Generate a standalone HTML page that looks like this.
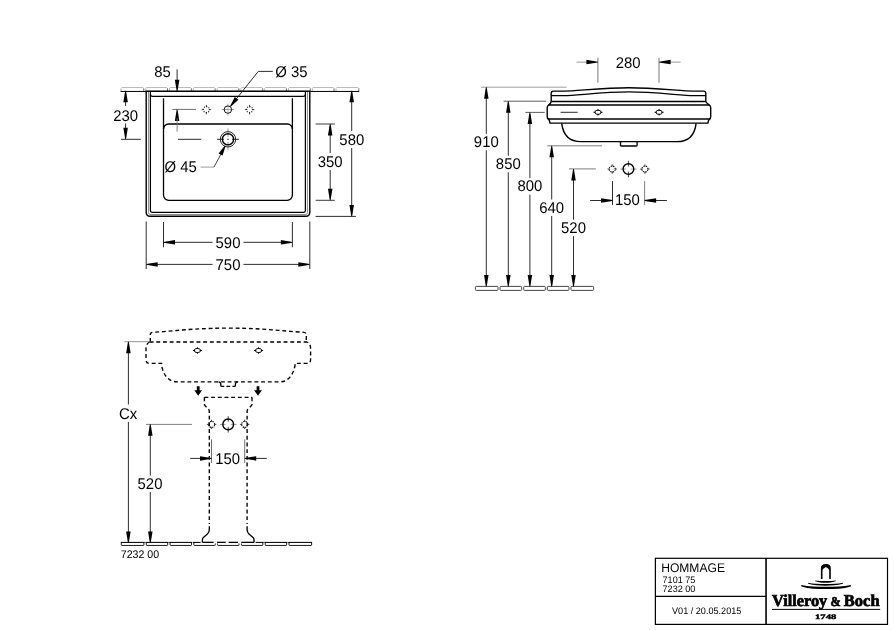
<!DOCTYPE html>
<html lang="de">
<head>
<meta charset="utf-8">
<title>HOMMAGE 7101 75 / 7232 00 – Villeroy &amp; Boch</title>
<style>
html,body{margin:0;padding:0;background:#fff;}
body{width:894px;height:630px;overflow:hidden;}
svg{display:block;will-change:transform;}
svg text{font-family:"Liberation Sans",Arial,sans-serif;fill:#000;text-rendering:geometricPrecision;}
svg text.logo{font-family:"Liberation Serif","Times New Roman",serif;font-weight:bold;}
</style>
</head>
<body>
<svg width="894" height="630" viewBox="0 0 894 630">
<rect x="0" y="0" width="894" height="630" fill="#ffffff"/>
<g id="plan">
<path d="M121.50 87.5 H143.28" fill="none" stroke="#b4b4b4" stroke-width="0.9"/>
<path d="M121.00 91.45 V88.3" fill="none" stroke="#999" stroke-width="0.8"/>
<path d="M143.78 91.45 V88.3" fill="none" stroke="#444" stroke-width="0.8"/>
<path d="M146.28 87.5 H167.06" fill="none" stroke="#b4b4b4" stroke-width="0.9"/>
<path d="M145.78 91.45 V88.3" fill="none" stroke="#999" stroke-width="0.8"/>
<path d="M167.56 91.45 V88.3" fill="none" stroke="#444" stroke-width="0.8"/>
<path d="M170.06 87.5 H190.84" fill="none" stroke="#b4b4b4" stroke-width="0.9"/>
<path d="M169.56 91.45 V88.3" fill="none" stroke="#999" stroke-width="0.8"/>
<path d="M191.34 91.45 V88.3" fill="none" stroke="#444" stroke-width="0.8"/>
<path d="M193.84 87.5 H214.62" fill="none" stroke="#b4b4b4" stroke-width="0.9"/>
<path d="M193.34 91.45 V88.3" fill="none" stroke="#999" stroke-width="0.8"/>
<path d="M215.12 91.45 V88.3" fill="none" stroke="#444" stroke-width="0.8"/>
<path d="M217.62 87.5 H238.40" fill="none" stroke="#b4b4b4" stroke-width="0.9"/>
<path d="M217.12 91.45 V88.3" fill="none" stroke="#999" stroke-width="0.8"/>
<path d="M238.90 91.45 V88.3" fill="none" stroke="#444" stroke-width="0.8"/>
<path d="M241.40 87.5 H262.18" fill="none" stroke="#b4b4b4" stroke-width="0.9"/>
<path d="M240.90 91.45 V88.3" fill="none" stroke="#999" stroke-width="0.8"/>
<path d="M262.68 91.45 V88.3" fill="none" stroke="#444" stroke-width="0.8"/>
<path d="M265.18 87.5 H285.96" fill="none" stroke="#b4b4b4" stroke-width="0.9"/>
<path d="M264.68 91.45 V88.3" fill="none" stroke="#999" stroke-width="0.8"/>
<path d="M286.46 91.45 V88.3" fill="none" stroke="#444" stroke-width="0.8"/>
<path d="M288.96 87.5 H309.74" fill="none" stroke="#b4b4b4" stroke-width="0.9"/>
<path d="M288.46 91.45 V88.3" fill="none" stroke="#999" stroke-width="0.8"/>
<path d="M310.24 91.45 V88.3" fill="none" stroke="#444" stroke-width="0.8"/>
<path d="M312.74 87.5 H333.52" fill="none" stroke="#b4b4b4" stroke-width="0.9"/>
<path d="M312.24 91.45 V88.3" fill="none" stroke="#999" stroke-width="0.8"/>
<path d="M334.02 91.45 V88.3" fill="none" stroke="#444" stroke-width="0.8"/>
<path d="M336.52 87.5 H358.30" fill="none" stroke="#b4b4b4" stroke-width="0.9"/>
<path d="M336.02 91.45 V88.3" fill="none" stroke="#999" stroke-width="0.8"/>
<path d="M358.80 91.45 V88.3" fill="none" stroke="#444" stroke-width="0.8"/>
<path d="M120.60 91.45 H359.20" fill="none" stroke="#000" stroke-width="1"/>
<path d="M146.2 91.3 H309.8 V212.2 Q309.8 216.3 305.7 216.3 H150.3 Q146.2 216.3 146.2 212.2 Z" fill="none" stroke="#000" stroke-width="1.4"/>
<path d="M148.5 92 V212.6 Q148.5 214.5 150.4 214.5 H305.6 Q307.5 214.5 307.5 212.6 V92" fill="none" stroke="#333" stroke-width="0.55"/>
<path d="M150.4 91.3 V210.6 Q150.4 212.3 152.1 212.3 H303.7 Q305.4 212.3 305.4 210.6 V91.3" fill="none" stroke="#000" stroke-width="1.25"/>
<path d="M150.4 94.6 Q150.8 96.4 152.6 96.4 H303.2 Q305 96.4 305.4 94.6" fill="none" stroke="#000" stroke-width="1.3"/>
<path d="M163.5 98.2 V195.1 A5.2 5.2 0 0 0 168.7 200.3 H287.2 A5.2 5.2 0 0 0 292.4 195.1 V98.2" fill="none" stroke="#000" stroke-width="1.3"/>
<path d="M163.5 129 A5 5 0 0 1 168.5 124 H287.4 A5 5 0 0 1 292.4 129" fill="none" stroke="#000" stroke-width="1.4"/>
<line x1="208.70000000000002" y1="109.6" x2="211.1" y2="109.6" stroke="#222" stroke-width="0.85" />
<line x1="204.1" y1="109.6" x2="201.70000000000002" y2="109.6" stroke="#222" stroke-width="0.85" />
<line x1="206.4" y1="111.89999999999999" x2="206.4" y2="114.3" stroke="#222" stroke-width="0.85" />
<line x1="206.4" y1="107.3" x2="206.4" y2="104.89999999999999" stroke="#222" stroke-width="0.85" />
<circle cx="206.4" cy="109.6" r="3.1" fill="none" stroke="#111" stroke-width="1.1" stroke-dasharray="0.974 1.461" stroke-dashoffset="0.487"/>
<line x1="251.9" y1="109.6" x2="254.29999999999998" y2="109.6" stroke="#222" stroke-width="0.85" />
<line x1="247.29999999999998" y1="109.6" x2="244.9" y2="109.6" stroke="#222" stroke-width="0.85" />
<line x1="249.6" y1="111.89999999999999" x2="249.6" y2="114.3" stroke="#222" stroke-width="0.85" />
<line x1="249.6" y1="107.3" x2="249.6" y2="104.89999999999999" stroke="#222" stroke-width="0.85" />
<circle cx="249.6" cy="109.6" r="3.1" fill="none" stroke="#111" stroke-width="1.1" stroke-dasharray="0.974 1.461" stroke-dashoffset="0.487"/>
<line x1="221.8" y1="109.6" x2="234" y2="109.6" stroke="#777" stroke-width="0.8" />
<line x1="227.9" y1="103.6" x2="227.9" y2="115.6" stroke="#aaa" stroke-width="0.8" />
<circle cx="227.9" cy="109.6" r="3.7" fill="none" stroke="#111" stroke-width="1"/>
<line x1="217" y1="139.3" x2="224" y2="139.3" stroke="#111" stroke-width="0.9" />
<line x1="232" y1="139.3" x2="239" y2="139.3" stroke="#111" stroke-width="0.9" />
<line x1="227" y1="139.3" x2="229" y2="139.3" stroke="#444" stroke-width="0.9" />
<line x1="228" y1="128.4" x2="228" y2="137" stroke="#888" stroke-width="0.8" />
<line x1="228" y1="141.6" x2="228" y2="150.2" stroke="#888" stroke-width="0.8" />
<circle cx="228" cy="139.3" r="7.7" fill="none" stroke="#111" stroke-width="0.9"/>
<circle cx="228" cy="139.3" r="5.6" fill="none" stroke="#000" stroke-width="1.4"/>
<text x="162.5" y="76.70" font-size="15.50" text-anchor="middle" textLength="16.57" lengthAdjust="spacingAndGlyphs" >85</text>
<line x1="177.1" y1="69.3" x2="177.1" y2="85" stroke="#222" stroke-width="0.95" />
<polygon points="176.70,91.20 174.85,79.70 179.35,79.70 177.50,91.20" fill="#000"/>
<line x1="172.3" y1="109.4" x2="196" y2="109.4" stroke="#555" stroke-width="0.85" />
<polygon points="177.50,109.40 179.35,120.90 174.85,120.90 176.70,109.40" fill="#000"/>
<line x1="177.1" y1="118" x2="177.1" y2="131.6" stroke="#777" stroke-width="0.9" />
<line x1="178" y1="139.3" x2="201.2" y2="139.3" stroke="#222" stroke-width="0.95" />
<text x="125.6" y="120.80" font-size="15.50" text-anchor="middle" textLength="24.86" lengthAdjust="spacingAndGlyphs" >230</text>
<line x1="125.6" y1="98" x2="125.6" y2="106" stroke="#222" stroke-width="0.95" />
<line x1="125.6" y1="123.5" x2="125.6" y2="132" stroke="#222" stroke-width="0.95" />
<polygon points="126.00,90.80 127.85,102.30 123.35,102.30 125.20,90.80" fill="#000"/>
<polygon points="125.20,139.30 123.35,127.80 127.85,127.80 126.00,139.30" fill="#000"/>
<line x1="121" y1="139.3" x2="140.8" y2="139.3" stroke="#222" stroke-width="0.95" />
<text x="275.3" y="76.70" font-size="15.50" text-anchor="start" textLength="32.30" lengthAdjust="spacingAndGlyphs" >Ø 35</text>
<path d="M272.8 71.4 H258.3 L234 101.8" fill="none" stroke="#222" stroke-width="0.95"/>
<polygon points="229.98,106.25 234.76,97.04 238.39,99.87 230.62,106.75" fill="#000"/>
<text x="164.5" y="172.00" font-size="15.50" text-anchor="start" textLength="32.30" lengthAdjust="spacingAndGlyphs" >Ø 45</text>
<line x1="200.6" y1="167.1" x2="213.9" y2="167.1" stroke="#888" stroke-width="0.8" />
<line x1="213.9" y1="167.1" x2="222.3" y2="151.8" stroke="#222" stroke-width="0.85" />
<polygon points="225.55,145.99 222.59,155.51 218.62,153.40 224.85,145.61" fill="#000"/>
<text x="330.2" y="166.70" font-size="15.50" text-anchor="middle" textLength="24.86" lengthAdjust="spacingAndGlyphs" >350</text>
<line x1="315.6" y1="124" x2="334.9" y2="124" stroke="#333" stroke-width="0.95" />
<line x1="315.6" y1="200.3" x2="334.9" y2="200.3" stroke="#333" stroke-width="0.95" />
<line x1="330.2" y1="126" x2="330.2" y2="153" stroke="#222" stroke-width="0.95" />
<line x1="330.2" y1="170" x2="330.2" y2="198.3" stroke="#222" stroke-width="0.95" />
<polygon points="330.60,124.00 332.45,135.50 327.95,135.50 329.80,124.00" fill="#000"/>
<polygon points="329.80,200.30 327.95,188.80 332.45,188.80 330.60,200.30" fill="#000"/>
<text x="351.8" y="144.50" font-size="15.50" text-anchor="middle" textLength="24.86" lengthAdjust="spacingAndGlyphs" >580</text>
<line x1="351.7" y1="92.8" x2="351.7" y2="131" stroke="#222" stroke-width="0.95" />
<line x1="351.7" y1="148" x2="351.7" y2="214.4" stroke="#222" stroke-width="0.95" />
<polygon points="352.10,90.80 353.95,102.30 349.45,102.30 351.30,90.80" fill="#000"/>
<polygon points="351.30,216.40 349.45,204.90 353.95,204.90 352.10,216.40" fill="#000"/>
<line x1="315.6" y1="216.4" x2="355.9" y2="216.4" stroke="#222" stroke-width="0.95" />
<text x="228" y="247.90" font-size="15.50" text-anchor="middle" textLength="24.86" lengthAdjust="spacingAndGlyphs" >590</text>
<line x1="163.5" y1="222" x2="163.5" y2="247.3" stroke="#222" stroke-width="0.95" />
<line x1="292.4" y1="222" x2="292.4" y2="247.3" stroke="#222" stroke-width="0.95" />
<line x1="165.5" y1="242.3" x2="212.5" y2="242.3" stroke="#222" stroke-width="0.95" />
<line x1="243.5" y1="242.3" x2="290.4" y2="242.3" stroke="#222" stroke-width="0.95" />
<polygon points="163.50,241.90 175.00,240.05 175.00,244.55 163.50,242.70" fill="#000"/>
<polygon points="292.40,242.70 280.90,244.55 280.90,240.05 292.40,241.90" fill="#000"/>
<text x="228" y="269.90" font-size="15.50" text-anchor="middle" textLength="24.86" lengthAdjust="spacingAndGlyphs" >750</text>
<line x1="146.2" y1="221.5" x2="146.2" y2="269" stroke="#222" stroke-width="0.95" />
<line x1="309.8" y1="221.5" x2="309.8" y2="269" stroke="#222" stroke-width="0.95" />
<line x1="148.2" y1="264.4" x2="212.5" y2="264.4" stroke="#222" stroke-width="0.95" />
<line x1="243.5" y1="264.4" x2="307.8" y2="264.4" stroke="#222" stroke-width="0.95" />
<polygon points="146.20,264.00 157.70,262.15 157.70,266.65 146.20,264.80" fill="#000"/>
<polygon points="309.80,264.80 298.30,266.65 298.30,262.15 309.80,264.00" fill="#000"/>
</g>
<g id="side">
<rect x="475.40" y="286.4" width="22.64" height="4.00" rx="0.9" ry="0.9" fill="none" stroke="#444" stroke-width="1"/>
<rect x="500.04" y="286.4" width="21.64" height="4.00" rx="0.9" ry="0.9" fill="none" stroke="#444" stroke-width="1"/>
<rect x="523.68" y="286.4" width="21.64" height="4.00" rx="0.9" ry="0.9" fill="none" stroke="#444" stroke-width="1"/>
<rect x="547.32" y="286.4" width="21.64" height="4.00" rx="0.9" ry="0.9" fill="none" stroke="#444" stroke-width="1"/>
<rect x="570.96" y="286.4" width="22.64" height="4.00" rx="0.9" ry="0.9" fill="none" stroke="#444" stroke-width="1"/>
<line x1="481" y1="87.2" x2="566.5" y2="87.2" stroke="#999" stroke-width="0.95" />
<line x1="486.3" y1="89.2" x2="486.3" y2="133.8" stroke="#222" stroke-width="0.95" />
<line x1="486.3" y1="150.3" x2="486.3" y2="284.4" stroke="#222" stroke-width="0.95" />
<polygon points="486.70,87.20 488.55,98.70 484.05,98.70 485.90,87.20" fill="#000"/>
<polygon points="485.90,286.40 484.05,274.90 488.55,274.90 486.70,286.40" fill="#000"/>
<text x="486.3" y="147.00" font-size="15.50" text-anchor="middle" textLength="24.86" lengthAdjust="spacingAndGlyphs" >910</text>
<line x1="503.6" y1="101.2" x2="546.3" y2="101.2" stroke="#555" stroke-width="0.95" />
<line x1="508.3" y1="103.2" x2="508.3" y2="155.8" stroke="#222" stroke-width="0.95" />
<line x1="508.3" y1="172.3" x2="508.3" y2="284.4" stroke="#222" stroke-width="0.95" />
<polygon points="508.70,101.20 510.55,112.70 506.05,112.70 507.90,101.20" fill="#000"/>
<polygon points="507.90,286.40 506.05,274.90 510.55,274.90 508.70,286.40" fill="#000"/>
<text x="508.3" y="169.00" font-size="15.50" text-anchor="middle" textLength="24.86" lengthAdjust="spacingAndGlyphs" >850</text>
<line x1="525.4" y1="112.4" x2="544.7" y2="112.4" stroke="#555" stroke-width="0.95" />
<line x1="529.9" y1="114.4" x2="529.9" y2="178.1" stroke="#222" stroke-width="0.95" />
<line x1="529.9" y1="194.6" x2="529.9" y2="284.4" stroke="#222" stroke-width="0.95" />
<polygon points="530.30,112.40 532.15,123.90 527.65,123.90 529.50,112.40" fill="#000"/>
<polygon points="529.50,286.40 527.65,274.90 532.15,274.90 530.30,286.40" fill="#000"/>
<text x="529.9" y="191.30" font-size="15.50" text-anchor="middle" textLength="24.86" lengthAdjust="spacingAndGlyphs" >800</text>
<line x1="547.2" y1="145.8" x2="602" y2="145.8" stroke="#777" stroke-width="0.95" />
<line x1="551.7" y1="147.8" x2="551.7" y2="199.5" stroke="#222" stroke-width="0.95" />
<line x1="551.7" y1="216" x2="551.7" y2="284.4" stroke="#222" stroke-width="0.95" />
<polygon points="552.10,145.80 553.95,157.30 549.45,157.30 551.30,145.80" fill="#000"/>
<polygon points="551.30,286.40 549.45,274.90 553.95,274.90 552.10,286.40" fill="#000"/>
<text x="551.7" y="212.70" font-size="15.50" text-anchor="middle" textLength="24.86" lengthAdjust="spacingAndGlyphs" >640</text>
<line x1="569" y1="168.9" x2="595.8" y2="168.9" stroke="#777" stroke-width="0.95" />
<line x1="573.5" y1="170.9" x2="573.5" y2="219.6" stroke="#222" stroke-width="0.95" />
<line x1="573.5" y1="236.1" x2="573.5" y2="284.4" stroke="#222" stroke-width="0.95" />
<polygon points="573.90,168.90 575.75,180.40 571.25,180.40 573.10,168.90" fill="#000"/>
<polygon points="573.10,286.40 571.25,274.90 575.75,274.90 573.90,286.40" fill="#000"/>
<text x="573.5" y="232.80" font-size="15.50" text-anchor="middle" textLength="24.86" lengthAdjust="spacingAndGlyphs" >520</text>
<path d="M551.2 101.5 V93.3 Q551.2 91.1 553.4 91.1 H564 C575 91.2 603 87.7 628.9 87.7 C654.8 87.7 682.8 91.2 693.8 91.1 H703.6 Q705.8 91.1 705.8 93.3 V101.5" fill="none" stroke="#000" stroke-width="1.4"/>
<path d="M551.2 95.6 H564 C575 95.7 603 91.9 628.9 91.9 C654.8 91.9 682.8 95.7 693.8 95.6 H705.8" fill="none" stroke="#000" stroke-width="1.3"/>
<path d="M551.2 101.5 H705.8" fill="none" stroke="#000" stroke-width="1.4"/>
<path d="M551.2 101.5 Q550.8 103.6 548.6 105 Q547.2 106 547.2 108 V116.4 Q547.2 118.4 548.4 119.2 Q549.8 120.4 550 123.1 H707.9 Q708.1 120.4 709.5 119.2 Q710.7 118.4 710.7 116.4 V108 Q710.7 106 709.3 105 Q707.1 103.6 705.8 101.5" fill="none" stroke="#000" stroke-width="1.4"/>
<path d="M548.4 105.1 H709.5" fill="none" stroke="#000" stroke-width="1.5"/>
<path d="M548 119 H709.9" fill="none" stroke="#000" stroke-width="1.3"/>
<path d="M561.7 123.3 C562.9 133 568 141.6 581 141.6 H676.9 C689.9 141.6 695 133 696.1 123.3" fill="none" stroke="#000" stroke-width="1.4"/>
<path d="M620.5 141.6 V145.2 Q620.5 146 621.3 146 H636.3 Q637.1 146 637.1 145.2 V141.6" fill="none" stroke="#000" stroke-width="1.3"/>
<ellipse cx="598" cy="112.3" rx="3.2" ry="2.1" fill="none" stroke="#111" stroke-width="1"/>
<line x1="593.5" y1="112.3" x2="595.6999999999999" y2="112.3" stroke="#000" stroke-width="1" />
<line x1="600.3000000000001" y1="112.3" x2="602.5" y2="112.3" stroke="#000" stroke-width="1" />
<line x1="598" y1="109.10000000000001" x2="598" y2="110.8" stroke="#000" stroke-width="1" />
<line x1="598" y1="113.8" x2="598" y2="115.49999999999999" stroke="#000" stroke-width="1" />
<ellipse cx="659.1" cy="112.3" rx="3.2" ry="2.1" fill="none" stroke="#111" stroke-width="1"/>
<line x1="654.6" y1="112.3" x2="656.8" y2="112.3" stroke="#000" stroke-width="1" />
<line x1="661.4000000000001" y1="112.3" x2="663.6" y2="112.3" stroke="#000" stroke-width="1" />
<line x1="659.1" y1="109.10000000000001" x2="659.1" y2="110.8" stroke="#000" stroke-width="1" />
<line x1="659.1" y1="113.8" x2="659.1" y2="115.49999999999999" stroke="#000" stroke-width="1" />
<line x1="560.6" y1="112.3" x2="577.7" y2="112.3" stroke="#222" stroke-width="0.95" />
<text x="628.2" y="67.90" font-size="15.50" text-anchor="middle" textLength="24.86" lengthAdjust="spacingAndGlyphs" >280</text>
<line x1="597.9" y1="57.8" x2="597.9" y2="82.7" stroke="#666" stroke-width="0.9" />
<line x1="659" y1="57.8" x2="659" y2="82.7" stroke="#666" stroke-width="0.9" />
<line x1="576.5" y1="62.1" x2="588" y2="62.1" stroke="#888" stroke-width="0.85" />
<polygon points="597.90,62.50 586.40,64.35 586.40,59.85 597.90,61.70" fill="#000"/>
<line x1="670" y1="62.1" x2="680.6" y2="62.1" stroke="#888" stroke-width="0.85" />
<polygon points="659.10,61.70 670.60,59.85 670.60,64.35 659.10,62.50" fill="#000"/>
<line x1="614.75" y1="169.05" x2="616.9000000000001" y2="169.05" stroke="#222" stroke-width="0.85" />
<line x1="609.6500000000001" y1="169.05" x2="607.5" y2="169.05" stroke="#222" stroke-width="0.85" />
<line x1="612.2" y1="171.60000000000002" x2="612.2" y2="173.75" stroke="#222" stroke-width="0.85" />
<line x1="612.2" y1="166.5" x2="612.2" y2="164.35000000000002" stroke="#222" stroke-width="0.85" />
<circle cx="612.2" cy="169.05" r="3.05" fill="none" stroke="#111" stroke-width="1.1" stroke-dasharray="1.485 0.910" stroke-dashoffset="-0.455"/>
<line x1="647.4499999999999" y1="169.05" x2="649.6" y2="169.05" stroke="#222" stroke-width="0.85" />
<line x1="642.35" y1="169.05" x2="640.1999999999999" y2="169.05" stroke="#222" stroke-width="0.85" />
<line x1="644.9" y1="171.60000000000002" x2="644.9" y2="173.75" stroke="#222" stroke-width="0.85" />
<line x1="644.9" y1="166.5" x2="644.9" y2="164.35000000000002" stroke="#222" stroke-width="0.85" />
<circle cx="644.9" cy="169.05" r="3.05" fill="none" stroke="#111" stroke-width="1.1" stroke-dasharray="1.485 0.910" stroke-dashoffset="-0.455"/>
<line x1="631.0500000000001" y1="169.05" x2="636.6500000000001" y2="169.05" stroke="#888" stroke-width="0.85" />
<line x1="625.85" y1="169.05" x2="620.25" y2="169.05" stroke="#888" stroke-width="0.85" />
<line x1="628.45" y1="171.65" x2="628.45" y2="177.25" stroke="#222" stroke-width="0.85" />
<line x1="628.45" y1="166.45000000000002" x2="628.45" y2="160.85000000000002" stroke="#222" stroke-width="0.85" />
<circle cx="628.45" cy="169.05" r="5.35" fill="none" stroke="#000" stroke-width="1.4"/>
<text x="627.4" y="205.30" font-size="15.50" text-anchor="middle" textLength="24.86" lengthAdjust="spacingAndGlyphs" >150</text>
<line x1="612.5" y1="181.1" x2="612.5" y2="204.9" stroke="#222" stroke-width="0.95" />
<line x1="644.6" y1="181.1" x2="644.6" y2="204.9" stroke="#777" stroke-width="0.95" />
<line x1="590.1" y1="200.5" x2="603" y2="200.5" stroke="#222" stroke-width="0.95" />
<polygon points="612.50,200.90 601.00,202.75 601.00,198.25 612.50,200.10" fill="#000"/>
<line x1="654" y1="200.5" x2="666.9" y2="200.5" stroke="#222" stroke-width="0.95" />
<polygon points="644.60,200.10 656.10,198.25 656.10,202.75 644.60,200.90" fill="#000"/>
</g>
<g id="front">
<path d="M121.30 542.4 V544.85 Q121.30 545.45 121.90 545.45 H143.29 Q143.89 545.45 143.89 544.85 V542.4" fill="none" stroke="#111" stroke-width="0.95"/>
<path d="M120.85 542.4 H144.74" fill="none" stroke="#000" stroke-width="1.05"/>
<path d="M146.29 542.4 V544.85 Q146.29 545.45 146.89 545.45 H167.08 Q167.68 545.45 167.68 544.85 V542.4" fill="none" stroke="#111" stroke-width="0.95"/>
<path d="M145.44 542.4 H168.53" fill="none" stroke="#000" stroke-width="1.05"/>
<path d="M170.07 542.4 V544.85 Q170.07 545.45 170.67 545.45 H190.86 Q191.46 545.45 191.46 544.85 V542.4" fill="none" stroke="#111" stroke-width="0.95"/>
<path d="M169.22 542.4 H192.31" fill="none" stroke="#000" stroke-width="1.05"/>
<path d="M193.86 542.4 V544.85 Q193.86 545.45 194.46 545.45 H214.65 Q215.25 545.45 215.25 544.85 V542.4" fill="none" stroke="#111" stroke-width="0.95"/>
<path d="M193.01 542.4 H216.10" fill="none" stroke="#000" stroke-width="1.05"/>
<path d="M217.65 542.4 V544.85 Q217.65 545.45 218.25 545.45 H238.44 Q239.04 545.45 239.04 544.85 V542.4" fill="none" stroke="#111" stroke-width="0.95"/>
<path d="M216.80 542.4 H239.89" fill="none" stroke="#000" stroke-width="1.05"/>
<path d="M241.44 542.4 V544.85 Q241.44 545.45 242.04 545.45 H262.23 Q262.83 545.45 262.83 544.85 V542.4" fill="none" stroke="#111" stroke-width="0.95"/>
<path d="M240.59 542.4 H263.68" fill="none" stroke="#000" stroke-width="1.05"/>
<path d="M265.23 542.4 V544.85 Q265.23 545.45 265.83 545.45 H286.01 Q286.61 545.45 286.61 544.85 V542.4" fill="none" stroke="#111" stroke-width="0.95"/>
<path d="M264.38 542.4 H287.46" fill="none" stroke="#000" stroke-width="1.05"/>
<path d="M289.01 542.4 V544.85 Q289.01 545.45 289.61 545.45 H311.00 Q311.60 545.45 311.60 544.85 V542.4" fill="none" stroke="#111" stroke-width="0.95"/>
<path d="M288.16 542.4 H312.05" fill="none" stroke="#000" stroke-width="1.05"/>
<line x1="200.6" y1="542.4" x2="255.6" y2="542.4" stroke="#fff" stroke-width="2" />
<path d="M150.3 341.8 V334.6 Q150.3 332.5 152.6 332.3 L164 331.6 C185 329.6 205 328.1 228.3 328.1 C252 328.1 272 329.6 293 331.6 L304 332.3 Q306.3 332.5 306.3 334.6 V341.8" stroke="#000" stroke-width="1.35" fill="none" stroke-dasharray="3.9 2.8"/>
<path d="M149.6 342 H307" stroke="#000" stroke-width="1.5" fill="none" stroke-dasharray="3.9 2.8"/>
<path d="M149.6 342 Q146 343.8 146 348.4 V359.6 Q146 363.4 149.6 363.4 H161.6 V365.5 C163.5 375 168.2 381.8 177 381.8 H279.6 C288.4 381.8 293.1 375 295 365.5 V363.4 H307 Q310.6 363.4 310.6 359.6 V348.4 Q310.6 343.8 307 342" stroke="#000" stroke-width="1.35" fill="none" stroke-dasharray="3.9 2.8"/>
<path d="M218.6 381.9 Q220.8 382.2 220.8 384.6 V385.2 Q220.8 386.4 222 386.4 H224.2 M226.4 386.4 H230.2 M232.4 386.4 H234.2 Q235.4 386.4 235.4 385.2 V384.6 Q235.4 382.2 237.6 381.9" fill="none" stroke="#000" stroke-width="1.35"/>
<ellipse cx="197.4" cy="350.5" rx="3.2" ry="2.1" fill="none" stroke="#111" stroke-width="1"/>
<line x1="192.9" y1="350.5" x2="195.10000000000002" y2="350.5" stroke="#000" stroke-width="1" />
<line x1="199.7" y1="350.5" x2="201.9" y2="350.5" stroke="#000" stroke-width="1" />
<line x1="197.4" y1="347.29999999999995" x2="197.4" y2="349.0" stroke="#000" stroke-width="1" />
<line x1="197.4" y1="352.0" x2="197.4" y2="353.70000000000005" stroke="#000" stroke-width="1" />
<ellipse cx="258.6" cy="350.5" rx="3.2" ry="2.1" fill="none" stroke="#111" stroke-width="1"/>
<line x1="254.10000000000002" y1="350.5" x2="256.3" y2="350.5" stroke="#000" stroke-width="1" />
<line x1="260.90000000000003" y1="350.5" x2="263.1" y2="350.5" stroke="#000" stroke-width="1" />
<line x1="258.6" y1="347.29999999999995" x2="258.6" y2="349.0" stroke="#000" stroke-width="1" />
<line x1="258.6" y1="352.0" x2="258.6" y2="353.70000000000005" stroke="#000" stroke-width="1" />
<path d="M196.79999999999998 386.2 H199.6 V390.2 H202.1 L198.2 395.8 L194.29999999999998 390.2 H196.79999999999998 Z" fill="#000"/>
<path d="M256.6 386.2 H259.4 V390.2 H261.9 L258 395.8 L254.1 390.2 H256.6 Z" fill="#000"/>
<path d="M204.4 397.3 H252" stroke="#000" stroke-width="1.35" fill="none" stroke-dasharray="3.9 2.8"/>
<path d="M204.4 397.3 V404.4 Q204.6 405.4 205.6 406.3 L208.3 408.8 Q209.3 409.8 209.3 411.5 V524" stroke="#000" stroke-width="1.35" fill="none" stroke-dasharray="3.9 2.8"/>
<path d="M252 397.3 V404.4 Q251.8 405.4 250.8 406.3 L248.1 408.8 Q247.1 409.8 247.1 411.5 V524" stroke="#000" stroke-width="1.35" fill="none" stroke-dasharray="3.9 2.8"/>
<path d="M209.3 526.2 V529.8 Q209.3 532.4 207.4 534 L203.4 537.4 Q202.4 538.3 202.4 539.8 V542.4" fill="none" stroke="#000" stroke-width="1.35"/>
<path d="M247.1 526.2 V529.8 Q247.1 532.4 249 534 L253 537.4 Q254 538.3 254 539.8 V542.4" fill="none" stroke="#000" stroke-width="1.35"/>
<path d="M202.4 542.4 H213.6 M217.1 542.4 H225.7 M228.6 542.4 H237.9 M241.4 542.4 H254" fill="none" stroke="#000" stroke-width="1.3"/>
<line x1="214.15" y1="424.4" x2="216.29999999999998" y2="424.4" stroke="#222" stroke-width="0.85" />
<line x1="209.04999999999998" y1="424.4" x2="206.9" y2="424.4" stroke="#222" stroke-width="0.85" />
<line x1="211.6" y1="426.95" x2="211.6" y2="429.09999999999997" stroke="#222" stroke-width="0.85" />
<line x1="211.6" y1="421.84999999999997" x2="211.6" y2="419.7" stroke="#222" stroke-width="0.85" />
<circle cx="211.6" cy="424.4" r="3.05" fill="none" stroke="#111" stroke-width="1.1" stroke-dasharray="1.485 0.910" stroke-dashoffset="-0.455"/>
<line x1="247.25" y1="424.4" x2="249.39999999999998" y2="424.4" stroke="#222" stroke-width="0.85" />
<line x1="242.14999999999998" y1="424.4" x2="240.0" y2="424.4" stroke="#222" stroke-width="0.85" />
<line x1="244.7" y1="426.95" x2="244.7" y2="429.09999999999997" stroke="#222" stroke-width="0.85" />
<line x1="244.7" y1="421.84999999999997" x2="244.7" y2="419.7" stroke="#222" stroke-width="0.85" />
<circle cx="244.7" cy="424.4" r="3.05" fill="none" stroke="#111" stroke-width="1.1" stroke-dasharray="1.485 0.910" stroke-dashoffset="-0.455"/>
<line x1="230.79999999999998" y1="424.4" x2="236.39999999999998" y2="424.4" stroke="#888" stroke-width="0.85" />
<line x1="225.6" y1="424.4" x2="220.0" y2="424.4" stroke="#888" stroke-width="0.85" />
<line x1="228.2" y1="427.0" x2="228.2" y2="432.59999999999997" stroke="#222" stroke-width="0.85" />
<line x1="228.2" y1="421.79999999999995" x2="228.2" y2="416.2" stroke="#222" stroke-width="0.85" />
<circle cx="228.2" cy="424.4" r="5.35" fill="none" stroke="#000" stroke-width="1.4"/>
<text x="227.6" y="463.50" font-size="15.50" text-anchor="middle" textLength="24.86" lengthAdjust="spacingAndGlyphs" >150</text>
<line x1="211.5" y1="439.4" x2="211.5" y2="463" stroke="#555" stroke-width="0.85" />
<line x1="244.7" y1="439.4" x2="244.7" y2="463" stroke="#555" stroke-width="0.85" />
<line x1="190.2" y1="458.4" x2="202" y2="458.4" stroke="#222" stroke-width="0.95" />
<polygon points="211.50,458.80 200.00,460.65 200.00,456.15 211.50,458.00" fill="#000"/>
<line x1="254" y1="458.4" x2="266.8" y2="458.4" stroke="#222" stroke-width="0.95" />
<polygon points="244.70,458.00 256.20,456.15 256.20,460.65 244.70,458.80" fill="#000"/>
<line x1="124.3" y1="341.7" x2="149.4" y2="341.7" stroke="#888" stroke-width="0.9" />
<text x="128" y="418.70" font-size="15.50" text-anchor="middle" textLength="18.21" lengthAdjust="spacingAndGlyphs" >Cx</text>
<line x1="128.4" y1="343.7" x2="128.4" y2="404.5" stroke="#222" stroke-width="0.95" />
<line x1="128.4" y1="422" x2="128.4" y2="541" stroke="#222" stroke-width="0.95" />
<polygon points="128.80,341.70 130.65,353.20 126.15,353.20 128.00,341.70" fill="#000"/>
<polygon points="128.00,543.00 126.15,531.50 130.65,531.50 128.80,543.00" fill="#000"/>
<line x1="146" y1="424.4" x2="192" y2="424.4" stroke="#555" stroke-width="0.75" />
<text x="150" y="488.70" font-size="15.50" text-anchor="middle" textLength="24.86" lengthAdjust="spacingAndGlyphs" >520</text>
<line x1="150.3" y1="426.2" x2="150.3" y2="475.5" stroke="#222" stroke-width="0.95" />
<line x1="150.3" y1="492" x2="150.3" y2="541" stroke="#222" stroke-width="0.95" />
<polygon points="150.70,424.20 152.55,435.70 148.05,435.70 149.90,424.20" fill="#000"/>
<polygon points="149.90,543.00 148.05,531.50 152.55,531.50 150.70,543.00" fill="#000"/>
<text x="120.8" y="557.70" font-size="11.02" text-anchor="start" textLength="38.32" lengthAdjust="spacingAndGlyphs" >7232 00</text>
</g>
<g id="title">
<rect x="655.4" y="558.3" width="232.1" height="66.1" fill="none" stroke="#000" stroke-width="1.2"/>
<line x1="766.05" y1="558.3" x2="766.05" y2="624.4" stroke="#000" stroke-width="1.6" />
<line x1="655.4" y1="596.4" x2="766" y2="596.4" stroke="#000" stroke-width="1.2" />
<text x="661.2" y="572.00" font-size="12.56" text-anchor="start" textLength="63.76" lengthAdjust="spacingAndGlyphs" >HOMMAGE</text>
<text x="662.6" y="583.40" font-size="9.41" text-anchor="start" textLength="32.71" lengthAdjust="spacingAndGlyphs" >7101 75</text>
<text x="662.6" y="592.30" font-size="9.41" text-anchor="start" textLength="32.71" lengthAdjust="spacingAndGlyphs" >7232 00</text>
<text x="672" y="613.80" font-size="9.46" text-anchor="start" textLength="69.32" lengthAdjust="spacingAndGlyphs" >V01 / 20.05.2015</text>
<path d="M820.9 579.1 V568.6 Q820.5 564.1 825.85 564.1 Q831.2 564.1 830.8 568.6 V579.1 H829.2 V570 Q829.2 568.6 825.85 566.9 Q822.5 568.6 822.5 570 V579.1 Z" fill="#000"/>
<path d="M815.1 580.4 C818 581 822 581.1 825.5 581.1 C829 581.1 833 581 835.9 580.4 L835.7 581.3 C832 582.6 829 582.8 825.5 582.8 C822 582.8 819 582.6 815.3 581.3 Z" fill="#000"/>
<path d="M808 582.8 C813 584 819 584.1 825.5 584.1 C832 584.1 838 584 843 582.8 L842.8 583.8 C837 585.5 832 585.7 825.5 585.7 C819 585.7 814 585.5 808.2 583.8 Z" fill="#000"/>
<path d="M801.2 585 C809 586.7 817 586.8 826 586.8 C835 586.8 843 586.7 850.9 585 L850.8 586.4 C843 588.8 835 589 826 589 C817 589 809 588.8 801.3 586.4 Z" fill="#000"/>
<text class="logo" y="605.9" font-size="16.6" stroke="#000" stroke-width="0.7"><tspan x="772" textLength="55.2" lengthAdjust="spacingAndGlyphs">Villeroy</tspan> <tspan x="830.4" font-size="13.4" textLength="10.2" lengthAdjust="spacingAndGlyphs">&amp;</tspan> <tspan x="843.8" textLength="35.8" lengthAdjust="spacingAndGlyphs">Boch</tspan></text>
<line x1="772" y1="609.4" x2="880.2" y2="609.4" stroke="#000" stroke-width="1" />
<text x="815" y="618.9" font-size="6.9" textLength="21.4" class="logo" lengthAdjust="spacingAndGlyphs" stroke="#000" stroke-width="0.4">1748</text>
</g>
</svg>
</body>
</html>
